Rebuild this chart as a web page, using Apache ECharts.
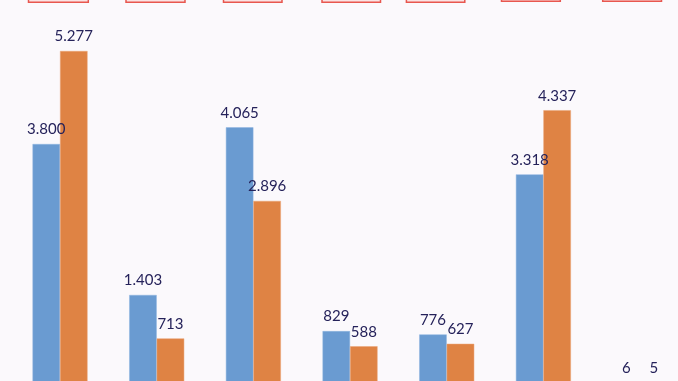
<!DOCTYPE html>
<html>
<head>
<meta charset="utf-8">
<script src="https://cdn.jsdelivr.net/npm/echarts@6/dist/echarts.min.js"></script>
<style>
html,body{margin:0;padding:0;background:#fbf9fc;}
#chart{width:678px;height:381px;}
</style>
</head>
<body>
<div id="chart"></div>
<script>
var categories = ['1', '2', '3', '4', '5', '6', '7'];
var seriesA = [3800, 1403, 4065, 829, 776, 3318, 6];
var seriesB = [5277, 713, 2896, 588, 627, 4337, 5];

function fmt(v) {
  return String(v).replace(/\B(?=(\d{3})+(?!\d))/g, '.');
}

var chart = echarts.init(document.getElementById('chart'));
var boxes = [[28.5, 88.3, 2.3], [126, 185, 2.3], [223.5, 282, 2.3], [322, 380.5, 2.3], [406.4, 464.8, 2.3], [501.5, 560.3, 1.3], [602.7, 661.5, 1.3]];
var graphics = boxes.map(function (b) {
  return {
    type: 'rect',
    shape: { x: b[0], y: -20, width: b[1] - b[0], height: 20 + b[2] },
    style: { fill: '#fbe3e3', stroke: '#e8574f', lineWidth: 1.5 },
    z: 10
  };
});
var labelStyle = {
  show: true,
  position: 'top',
  distance: 7,
  color: '#25225a',
  fontSize: 15,
  fontFamily: 'Lato',
  formatter: function (p) { return fmt(p.value); }
};
chart.setOption({
  backgroundColor: '#fbf9fc',
  animation: false,
  grid: { left: 11.7, width: 676.7, top: 5.5, height: 377.8, outerBoundsMode: 'none' },
  xAxis: {
    type: 'category',
    data: categories,
    show: false
  },
  yAxis: {
    type: 'value',
    min: 0,
    max: 6000,
    show: false
  },
  graphic: graphics,
  series: [
    {
      type: 'bar',
      data: seriesA,
      barWidth: 27.5,
      barGap: '0%',
      itemStyle: { color: '#6a9bd1', borderColor: '#8fb5e0', borderWidth: 0.5 },
      label: labelStyle
    },
    {
      type: 'bar',
      data: seriesB,
      barWidth: 27.5,
      itemStyle: { color: '#df8344', borderColor: '#eaa577', borderWidth: 0.5 },
      label: labelStyle
    }
  ]
});
</script>
</body>
</html>
